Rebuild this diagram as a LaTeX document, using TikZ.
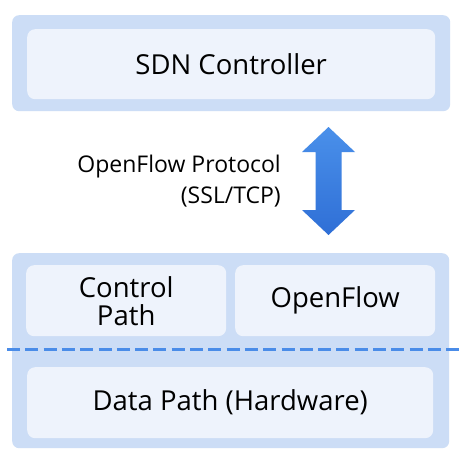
\documentclass[tikz,border=0pt]{standalone}
\usepackage{fontspec}
\setmainfont{Open Sans}
\usetikzlibrary{shapes.geometric}
\definecolor{outerblue}{HTML}{CCDDF6}
\definecolor{innerblue}{HTML}{EEF3FC}
\definecolor{dashblue}{HTML}{4A8CE8}
\definecolor{arrtop}{HTML}{4A90EA}
\definecolor{arrbot}{HTML}{2F6FD6}
\begin{document}
\begin{tikzpicture}[x=1pt,y=-1pt,
  outerbox/.style={fill=outerblue,draw=none,rounded corners=7pt},
  innerbox/.style={fill=innerblue,draw=none,rounded corners=8pt,font=\fontsize{27.5}{28}\selectfont,align=center,inner sep=0pt},
  lbl/.style={font=\fontsize{23}{31}\selectfont,align=right,inner sep=0pt}]
\useasboundingbox (0,0) rectangle (471,466);
\fill[white] (0,0) rectangle (471,466);
% top
\node[outerbox,minimum width=438pt,minimum height=96pt,anchor=north west] (ctrlouter) at (12,15) {};
\node[innerbox,minimum width=408pt,minimum height=70pt,anchor=north west] (ctrl) at (27,29) {SDN Controller};
% bottom
\node[outerbox,minimum width=437pt,minimum height=195pt,anchor=north west] (swouter) at (12,253) {};
\node[innerbox,minimum width=200pt,minimum height=71pt,anchor=north west] (cp) at (26,265) {Control\\Path};
\node[innerbox,minimum width=200pt,minimum height=71pt,anchor=north west] (of) at (235,265) {OpenFlow};
\node[innerbox,minimum width=406pt,minimum height=71pt,anchor=north west] (dp) at (27,367) {Data Path (Hardware)};
\coordinate (dl) at (7,349.5);
\coordinate (dr) at (460,349.5);
\draw[dashblue,line width=3.6pt,dash pattern=on 13pt off 5.3pt] (dl) -- (dr);
% arrow
\coordinate (atop) at (328.5,127);
\coordinate (abot) at (328.5,235);
\shade[top color=arrtop,bottom color=arrbot]
  (atop) -- (355,152) -- (341.5,152) -- (341.5,210) -- (355,210) -- (abot)
  -- (302,210) -- (315.5,210) -- (315.5,152) -- (302,152) -- cycle;
\node[lbl,anchor=east] (proto) at (281,181) {OpenFlow Protocol\\(SSL/TCP)};
\end{tikzpicture}
\end{document}
